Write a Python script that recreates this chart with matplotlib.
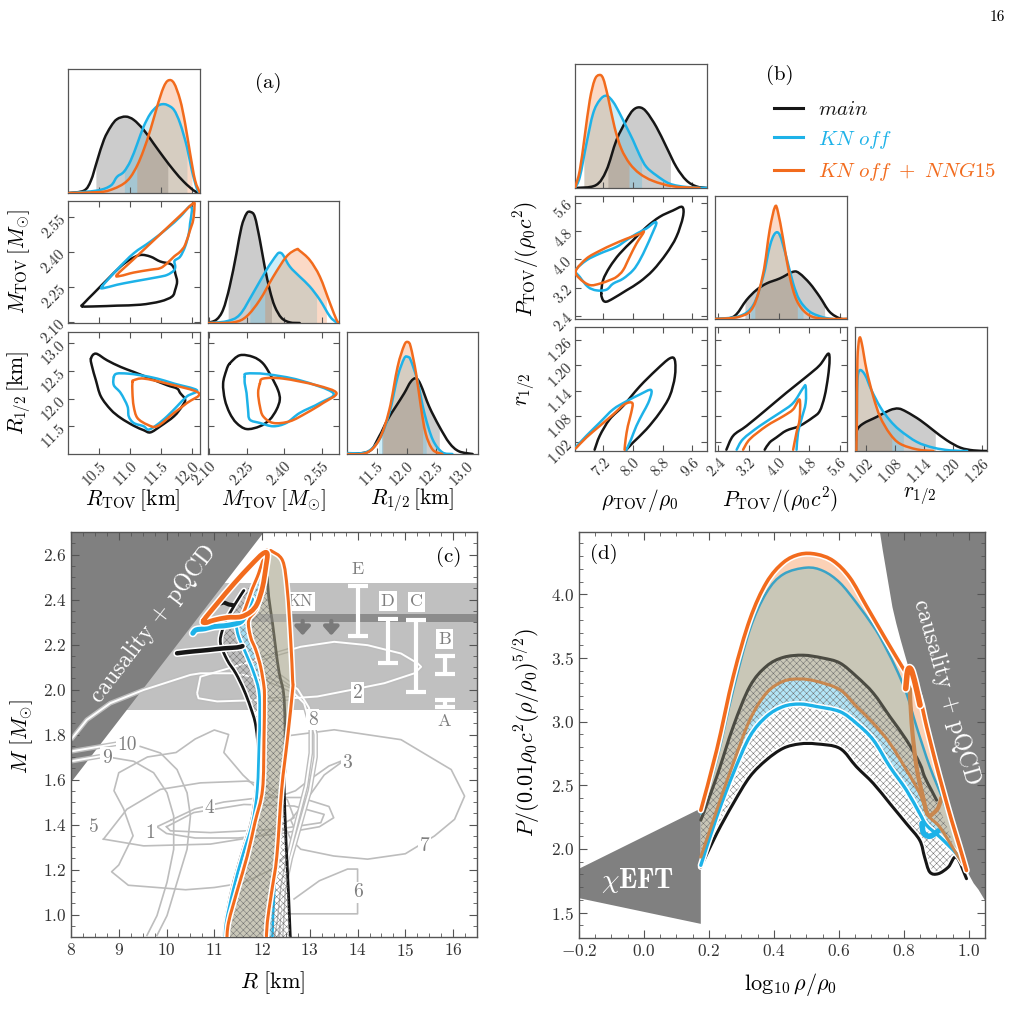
import numpy as np
import matplotlib
matplotlib.use("Agg")
import matplotlib.pyplot as plt
import matplotlib.patheffects as pe
from matplotlib.patches import Polygon, PathPatch
from matplotlib.path import Path
from matplotlib.lines import Line2D
from matplotlib.ticker import MultipleLocator

plt.rcParams.update({
    "font.family": "serif",
    "font.serif": ["cmr10"],
    "mathtext.fontset": "cm",
    "axes.unicode_minus": False,
    "axes.formatter.use_mathtext": True,
    "hatch.linewidth": 0.35,
})

# ---------------------------------------------------------------- colours
C_MAIN = "#161616"
C_KN = "#1db2e8"
C_NNG = "#f26b1d"
LABELS = [r"$\mathit{main}$", r"$\mathit{KN\ off}$", r"$\mathit{KN\ off\ +\ NNG15}$"]

# ================================================================ panel (a) data
RT_x_main = [10.02, 10.26, 10.37, 10.47, 10.58, 10.69, 10.79, 10.93, 11.06, 11.22, 11.38, 11.54, 11.71, 11.87, 12.03, 12.13]
RT_h_main = [0, 0.02, 0.10, 0.26, 0.43, 0.535, 0.595, 0.616, 0.59, 0.51, 0.40, 0.29, 0.18, 0.09, 0.02, 0]
RT_x_kn = [10.02, 10.47, 10.69, 10.79, 10.90, 11.01, 11.12, 11.22, 11.33, 11.44, 11.52, 11.60, 11.71, 11.81, 11.92, 12.0, 12.08, 12.13]
RT_h_kn = [0, 0.02, 0.06, 0.13, 0.17, 0.26, 0.40, 0.535, 0.64, 0.70, 0.716, 0.71, 0.67, 0.56, 0.37, 0.18, 0.035, 0]
RT_x_nng = [10.02, 10.53, 10.74, 10.90, 11.01, 11.12, 11.22, 11.33, 11.44, 11.54, 11.62, 11.71, 11.81, 11.89, 11.97, 12.05, 12.13]
RT_h_nng = [0, 0.008, 0.035, 0.076, 0.13, 0.225, 0.346, 0.51, 0.70, 0.85, 0.908, 0.886, 0.75, 0.56, 0.32, 0.103, 0]
RT_ci = [(10.45, 11.61), (10.91, 11.92), (11.11, 12.0)]

MT_x_main = [2.095, 2.130, 2.157, 2.183, 2.210, 2.230, 2.250, 2.266, 2.283, 2.303, 2.322, 2.342, 2.362, 2.389, 2.422, 2.461]
MT_h_main = [0, 0.027, 0.109, 0.299, 0.571, 0.788, 0.897, 0.910, 0.870, 0.679, 0.462, 0.272, 0.136, 0.041, 0.005, 0]
MT_x_kn = [2.095, 2.170, 2.223, 2.276, 2.329, 2.369, 2.382, 2.395, 2.422, 2.461, 2.501, 2.541, 2.581, 2.607, 2.617]
MT_h_kn = [0, 0.014, 0.068, 0.245, 0.435, 0.557, 0.576, 0.557, 0.462, 0.38, 0.299, 0.19, 0.054, 0.005, 0]
MT_x_nng = [2.095, 2.197, 2.250, 2.303, 2.356, 2.408, 2.448, 2.461, 2.501, 2.541, 2.581, 2.607, 2.617]
MT_h_nng = [0, 0.005, 0.054, 0.19, 0.38, 0.543, 0.603, 0.592, 0.516, 0.38, 0.163, 0.027, 0]
MT_ci = [(2.177, 2.349), (2.263, 2.528), (2.322, 2.567)]

R12_x_main = [10.99, 11.37, 11.54, 11.68, 11.82, 11.96, 12.07, 12.16, 12.24, 12.38, 12.55, 12.72, 12.88, 13.11]
R12_h_main = [0, 0.022, 0.144, 0.28, 0.389, 0.497, 0.592, 0.62, 0.565, 0.389, 0.226, 0.09, 0.022, 0]
R12_x_kn = [10.99, 11.32, 11.54, 11.71, 11.85, 11.96, 12.02, 12.07, 12.18, 12.30, 12.44, 12.60, 12.77]
R12_h_kn = [0.008, 0.014, 0.117, 0.334, 0.633, 0.783, 0.796, 0.769, 0.606, 0.334, 0.117, 0.014, 0]
R12_x_nng = [10.99, 11.32, 11.54, 11.71, 11.85, 11.96, 12.02, 12.07, 12.16, 12.24, 12.32, 12.44, 12.60]
R12_h_nng = [0, 0.008, 0.117, 0.36, 0.715, 0.89, 0.918, 0.878, 0.66, 0.39, 0.17, 0.035, 0]
R12_ci = [(11.58, 12.55), (11.53, 12.33), (11.60, 12.27)]

RM_main_R = [10.23, 10.26, 10.42, 10.63, 10.85, 11.01, 11.17, 11.33, 11.49, 11.65, 11.71, 11.73, 11.76, 11.73, 11.68, 11.49, 11.17, 10.79, 10.47, 10.23]
RM_main_M = [2.168, 2.182, 2.225, 2.281, 2.338, 2.369, 2.387, 2.380, 2.359, 2.349, 2.331, 2.309, 2.274, 2.239, 2.210, 2.189, 2.175, 2.171, 2.168, 2.168]
RM_kn_R = [10.55, 10.79, 11.06, 11.33, 11.60, 11.81, 11.95, 11.98, 12.0, 11.97, 11.95, 11.89, 11.81, 11.72, 11.73, 11.71, 11.60, 11.44, 11.06, 10.79, 10.58, 10.55]
RM_kn_M = [2.253, 2.324, 2.394, 2.444, 2.500, 2.55, 2.592, 2.592, 2.578, 2.522, 2.479, 2.423, 2.380, 2.362, 2.338, 2.321, 2.302, 2.292, 2.274, 2.260, 2.246, 2.253]
RM_nng_R = [10.79, 11.06, 11.33, 11.60, 11.81, 12.02, 12.04, 12.02, 11.97, 11.89, 11.81, 11.71, 11.60, 11.49, 11.33, 11.06, 10.85, 10.79]
RM_nng_M = [2.302, 2.369, 2.436, 2.503, 2.555, 2.607, 2.592, 2.536, 2.493, 2.430, 2.401, 2.380, 2.352, 2.331, 2.324, 2.312, 2.298, 2.302]

RR_main_R = [10.37, 10.45, 10.63, 10.85, 11.06, 11.33, 11.60, 11.76, 11.81, 11.89, 11.84, 11.71, 11.49, 11.33, 11.22, 11.06, 10.85, 10.69, 10.53, 10.45, 10.39, 10.37]
RR_main_Rh = [12.72, 12.81, 12.69, 12.57, 12.48, 12.36, 12.24, 12.18, 12.10, 11.98, 11.86, 11.68, 11.50, 11.39, 11.43, 11.51, 11.65, 11.80, 12.04, 12.33, 12.57, 12.72]
RR_kn_R = [10.74, 10.79, 10.96, 11.17, 11.44, 11.71, 12.08, 11.92, 11.76, 11.60, 11.44, 11.30, 11.22, 11.06, 10.98, 10.96, 10.85, 10.74, 10.74]
RR_kn_Rh = [12.39, 12.45, 12.45, 12.42, 12.36, 12.27, 12.15, 12.04, 11.86, 11.68, 11.53, 11.44, 11.50, 11.56, 11.68, 11.86, 12.10, 12.24, 12.39]
RR_nng_R = [11.04, 11.06, 11.22, 11.60, 12.11, 11.92, 11.71, 11.44, 11.28, 11.12, 11.06, 11.04, 11.04]
RR_nng_Rh = [12.30, 12.33, 12.36, 12.27, 12.10, 11.92, 11.74, 11.50, 11.53, 11.65, 11.86, 12.10, 12.30]

MR_main_M = [2.183, 2.223, 2.276, 2.316, 2.349, 2.375, 2.382, 2.369, 2.342, 2.303, 2.250, 2.210, 2.183, 2.164, 2.157, 2.170, 2.183]
MR_main_Rh = [12.63, 12.78, 12.75, 12.63, 12.39, 12.15, 11.98, 11.80, 11.62, 11.50, 11.45, 11.56, 11.74, 11.98, 12.27, 12.51, 12.63]
MR_kn_M = [2.243, 2.250, 2.329, 2.461, 2.594, 2.541, 2.461, 2.408, 2.356, 2.303, 2.263, 2.256, 2.250, 2.243, 2.243]
MR_kn_Rh = [12.39, 12.45, 12.44, 12.33, 12.10, 11.92, 11.74, 11.56, 11.50, 11.56, 11.62, 11.80, 12.10, 12.27, 12.39]
MR_nng_M = [2.303, 2.316, 2.395, 2.528, 2.607, 2.554, 2.488, 2.422, 2.356, 2.316, 2.303, 2.296, 2.303]
MR_nng_Rh = [12.27, 12.36, 12.36, 12.24, 12.10, 11.92, 11.74, 11.59, 11.56, 11.68, 11.86, 12.10, 12.27]

A_ticks_RT = [10.5, 11.0, 11.5, 12.0]
A_ticks_MT = [2.10, 2.25, 2.40, 2.55]
A_ticks_R12 = [11.5, 12.0, 12.5, 13.0]

# ================================================================ panel (b) data
RHO_x_main = [6.43, 6.99, 7.28, 7.55, 7.82, 8.0, 8.18, 8.36, 8.63, 8.90, 9.17, 9.44, 9.71, 10.0]
RHO_h_main = [0, 0.022, 0.143, 0.385, 0.547, 0.628, 0.65, 0.615, 0.493, 0.332, 0.17, 0.062, 0.013, 0]
RHO_x_kn = [6.43, 6.56, 6.74, 6.92, 7.10, 7.28, 7.46, 7.64, 7.82, 8.0, 8.18, 8.36, 8.63, 8.99, 9.44, 10.0]
RHO_h_kn = [0, 0.089, 0.358, 0.601, 0.709, 0.744, 0.695, 0.601, 0.493, 0.385, 0.264, 0.17, 0.102, 0.035, 0.008, 0]
RHO_x_nng = [6.43, 6.56, 6.69, 6.83, 6.96, 7.08, 7.19, 7.32, 7.50, 7.68, 7.91, 8.18, 8.54, 9.08, 9.80]
RHO_h_nng = [0, 0.143, 0.412, 0.709, 0.87, 0.911, 0.884, 0.737, 0.49, 0.318, 0.197, 0.116, 0.057, 0.013, 0]
RHO_ci = [(7.32, 9.01), (6.67, 8.23), (6.67, 7.89)]

P_x_main = [2.32, 2.80, 3.14, 3.40, 3.67, 4.02, 4.37, 4.54, 4.81, 5.07, 5.33, 5.60, 5.79]
P_h_main = [0, 0.019, 0.154, 0.235, 0.289, 0.33, 0.384, 0.37, 0.289, 0.181, 0.059, 0.005, 0]
P_x_kn = [2.32, 2.96, 3.32, 3.58, 3.75, 3.89, 4.02, 4.19, 4.37, 4.54, 4.81, 5.16, 5.42]
P_h_kn = [0, 0.024, 0.114, 0.343, 0.586, 0.695, 0.681, 0.505, 0.289, 0.154, 0.059, 0.014, 0]
P_x_nng = [2.32, 2.96, 3.32, 3.58, 3.75, 3.89, 3.97, 4.11, 4.28, 4.46, 4.72, 5.07, 5.79]
P_h_nng = [0, 0.019, 0.1, 0.37, 0.722, 0.911, 0.87, 0.643, 0.346, 0.154, 0.046, 0.005, 0]
P_ci = [(3.10, 5.20), (3.25, 4.63), (3.36, 4.48)]

r_x_main = [1.0, 1.001, 1.014, 1.042, 1.069, 1.087, 1.104, 1.132, 1.159, 1.187, 1.215, 1.242, 1.271]
r_h_main = [0.086, 0.167, 0.221, 0.275, 0.329, 0.342, 0.315, 0.248, 0.167, 0.086, 0.027, 0.005, 0]
r_x_kn = [1.0, 1.001, 1.002, 1.007, 1.018, 1.031, 1.049, 1.069, 1.09, 1.125, 1.159, 1.194, 1.229]
r_h_kn = [0, 0.329, 0.571, 0.652, 0.612, 0.491, 0.356, 0.248, 0.167, 0.073, 0.027, 0.005, 0]
r_x_nng = [1.0, 1.001, 1.002, 1.006, 1.011, 1.021, 1.035, 1.049, 1.069, 1.09, 1.125, 1.159]
r_h_nng = [0, 0.329, 0.733, 0.908, 0.868, 0.652, 0.437, 0.275, 0.14, 0.059, 0.013, 0]
r_ci = [(1.0, 1.163), (1.0, 1.097), (1.0, 1.073)]

PR_main_rho = [7.14, 7.19, 7.28, 7.46, 7.82, 8.18, 8.54, 8.90, 9.17, 9.35, 9.33, 9.08, 8.72, 8.36, 8.0, 7.64, 7.37, 7.19, 7.14]
PR_main_P = [3.03, 2.84, 2.80, 2.89, 3.12, 3.36, 3.69, 4.16, 4.63, 5.20, 5.48, 5.38, 5.20, 4.91, 4.54, 4.16, 3.78, 3.41, 3.03]
PR_kn_rho = [6.45, 6.56, 6.78, 7.01, 7.28, 7.46, 7.73, 8.0, 8.18, 8.36, 8.50, 8.63, 8.56, 8.36, 8.09, 7.82, 7.55, 7.10, 6.74, 6.45]
PR_kn_P = [3.69, 3.50, 3.22, 3.12, 3.14, 3.31, 3.45, 3.69, 3.97, 4.35, 4.68, 5.01, 5.03, 4.87, 4.72, 4.54, 4.35, 4.16, 3.97, 3.69]
PR_nng_rho = [6.45, 6.56, 6.83, 7.10, 7.37, 7.55, 7.73, 7.91, 8.09, 8.29, 8.18, 7.82, 7.46, 7.10, 6.74, 6.45]
PR_nng_P = [3.67, 3.45, 3.27, 3.31, 3.41, 3.50, 3.69, 4.07, 4.44, 4.77, 4.72, 4.58, 4.42, 4.24, 4.02, 3.67]

RRH_main_rho = [6.96, 7.10, 7.37, 7.73, 8.18, 8.63, 8.99, 9.13, 9.13, 8.99, 8.72, 8.36, 8.0, 7.82]
RRH_main_r = [1.001, 1.034, 1.073, 1.104, 1.150, 1.189, 1.216, 1.212, 1.173, 1.127, 1.088, 1.049, 1.018, 1.001]
RRH_kn_rho = [6.45, 6.74, 7.10, 7.46, 7.82, 8.18, 8.45, 8.50, 8.41, 8.27, 8.09, 7.95, 7.82]
RRH_kn_r = [1.007, 1.034, 1.065, 1.096, 1.115, 1.131, 1.142, 1.135, 1.111, 1.088, 1.057, 1.026, 1.001]
RRH_nng_rho = [6.45, 6.74, 7.10, 7.46, 7.77, 7.98, 7.95, 7.86, 7.80, 7.77]
RRH_nng_r = [1.004, 1.03, 1.057, 1.084, 1.108, 1.111, 1.088, 1.057, 1.026, 1.001]

RP_main_P = [2.61, 2.79, 3.14, 3.67, 4.19, 4.72, 5.07, 5.29, 5.33, 5.29, 5.20, 5.07, 4.89, 4.54, 4.19, 3.93, 3.75, 3.62]
RP_main_r = [1.001, 1.034, 1.057, 1.096, 1.135, 1.173, 1.200, 1.227, 1.212, 1.173, 1.127, 1.092, 1.077, 1.057, 1.046, 1.030, 1.018, 1.001]
RP_kn_P = [2.88, 3.05, 3.49, 4.02, 4.37, 4.63, 4.70, 4.70, 4.59, 4.50, 4.46]
RP_kn_r = [1.001, 1.026, 1.057, 1.088, 1.111, 1.146, 1.150, 1.111, 1.073, 1.042, 1.001]
RP_nng_P = [3.05, 3.23, 3.67, 4.11, 4.37, 4.54, 4.54, 4.46, 4.37]
RP_nng_r = [1.001, 1.026, 1.057, 1.080, 1.096, 1.119, 1.073, 1.042, 1.001]

B_ticks_rho = [7.2, 8.0, 8.8, 9.6]
B_ticks_P = [2.4, 3.2, 4.0, 4.8, 5.6]
B_ticks_r = [1.02, 1.08, 1.14, 1.20, 1.26]

# ================================================================ panel (c) data
GW_BAND = (1.907, 2.475)
KN_BAND = (11.69, 2.30, 2.337)
KN_ARROWS_R = [12.85, 13.45]
CAUS_C_R = [8.0, 12.04, 8.0]
CAUS_C_M = [1.587, 2.7, 2.7]
OBS_NAMES = ["A", "B", "C", "D", "E"]
OBS_R = [15.82, 15.82, 15.23, 14.63, 14.0]
OBS_LO = [1.924, 2.069, 1.988, 2.116, 2.237]
OBS_HI = [1.954, 2.149, 2.311, 2.315, 2.458]
OBS_LABEL_M = [1.858, 2.224, 2.39, 2.392, 2.532]
OBS_BOXED = [False, True, True, True, False]

OL_R = [12.10, 12.04, 11.90, 11.72, 11.76, 11.87, 11.97, 12.04, 12.05, 12.04, 12.01, 11.85, 11.69, 11.49, 11.30, 11.26]
OL_M = [2.62, 2.515, 2.367, 2.308, 2.234, 2.175, 2.101, 2.013, 1.95, 1.777, 1.556, 1.408, 1.26, 1.113, 0.966, 0.88]
OR_R = [12.18, 12.43, 12.53, 12.60, 12.64, 12.64, 12.53, 12.41, 12.31, 12.20, 12.11, 12.09]
OR_M = [2.618, 2.573, 2.44, 2.219, 2.042, 2.0, 1.777, 1.556, 1.26, 1.10, 0.966, 0.88]
BL_R = [11.45, 11.51, 11.66, 11.83, 11.94, 11.95, 11.94, 11.90, 11.80, 11.59, 11.40, 11.25, 11.22]
BL_M = [2.293, 2.234, 2.161, 2.072, 1.984, 1.85, 1.777, 1.556, 1.408, 1.26, 1.113, 0.966, 0.88]
BR_R = [12.20, 12.42, 12.51, 12.58, 12.62, 12.51, 12.40, 12.34, 12.26, 12.22, 12.21]
BR_M = [2.62, 2.57, 2.44, 2.22, 2.04, 1.78, 1.56, 1.335, 1.113, 0.907, 0.88]
KL_R = [11.62, 11.55, 11.30, 11.17, 11.13, 11.27, 11.45, 11.62, 11.76, 11.87, 11.93, 11.88, 11.77, 11.56, 11.37, 11.23, 11.20]
KL_M = [2.44, 2.418, 2.330, 2.264, 2.205, 2.131, 2.072, 1.998, 1.92, 1.836, 1.688, 1.556, 1.408, 1.26, 1.113, 0.966, 0.88]
KR_R = [12.11, 12.14, 12.22, 12.29, 12.36, 12.45, 12.48, 12.48, 12.46, 12.50, 12.55, 12.59, 12.60]
KR_M = [2.50, 2.411, 2.293, 2.175, 2.072, 1.984, 1.85, 1.65, 1.585, 1.335, 1.113, 0.907, 0.88]

LOOP_NNG_R = [10.78, 11.06, 11.41, 11.76, 12.01, 12.11, 12.08, 12.01, 11.90, 11.76, 11.55, 11.27, 10.99, 10.82, 10.78]
LOOP_NNG_M = [2.308, 2.382, 2.470, 2.551, 2.603, 2.603, 2.544, 2.455, 2.382, 2.345, 2.323, 2.320, 2.308, 2.297, 2.308]
LOOP_NNG_IN_R = [12.04, 11.95, 11.90, 11.80, 11.76, 11.66, 11.59]
LOOP_NNG_IN_M = [2.588, 2.53, 2.500, 2.45, 2.426, 2.367, 2.330]
LOOP_KN_R = [10.55, 10.62, 10.80, 11.00, 11.20, 11.40, 11.55, 11.64, 11.72, 11.78]
LOOP_KN_M = [2.25, 2.265, 2.27, 2.28, 2.283, 2.29, 2.30, 2.325, 2.37, 2.40]
LOOP_MAIN_R = [10.22, 10.50, 10.85, 11.20, 11.48, 11.59]
LOOP_MAIN_M = [2.161, 2.168, 2.175, 2.183, 2.187, 2.193]
LOOP_MAIN2_R = [11.09, 11.20, 11.30, 11.38]
LOOP_MAIN2_M = [2.38, 2.387, 2.378, 2.375]

# grey literature contours (single lines)
G1_R = [10.0, 10.57, 11.62, 12.67, 13.30, 13.23, 12.32, 10.92, 10.08, 10.0]
G1_M = [1.39, 1.453, 1.489, 1.482, 1.445, 1.408, 1.379, 1.364, 1.372, 1.39]
G3_R = [13.75, 13.4, 13.0, 12.7, 12.3, 11.9, 11.6, 11.2, 11.3, 11.0, 10.6, 10.2, 9.6, 9.0, 8.9, 9.1, 9.3, 9.0, 8.85, 9.2, 9.8, 10.4, 11.0, 11.6, 12.2, 12.6, 12.75, 12.6, 12.9, 13.3, 13.75]
G3_M = [1.69, 1.66, 1.60, 1.55, 1.52, 1.56, 1.62, 1.72, 1.80, 1.82, 1.78, 1.72, 1.70, 1.63, 1.55, 1.47, 1.35, 1.22, 1.19, 1.13, 1.12, 1.11, 1.12, 1.14, 1.20, 1.28, 1.35, 1.42, 1.50, 1.62, 1.69]
G4_R = [10.1, 10.6, 11.2, 12.0, 12.8, 13.4, 13.5, 13.2, 12.4, 11.5, 10.6, 10.0, 9.8, 10.1]
G4_M = [1.42, 1.47, 1.50, 1.52, 1.52, 1.48, 1.43, 1.39, 1.36, 1.34, 1.34, 1.36, 1.39, 1.42]
G5_R = [8.68, 9.17, 9.87, 10.71, 11.69, 12.11, 12.53, 12.67, 11.97, 10.92, 9.52, 8.68]
G5_M = [1.335, 1.468, 1.556, 1.585, 1.593, 1.571, 1.51, 1.43, 1.349, 1.313, 1.305, 1.335]
G6_R = [12.53, 14.0, 14.0, 13.79, 13.2, 12.67]
G6_M = [1.003, 1.003, 1.202, 1.202, 1.15, 1.069]
G7_R = [12.46, 13.51, 14.91, 15.96, 16.24, 16.03, 15.61, 15.0, 14.21, 13.5, 12.81, 12.60, 12.46]
G7_M = [1.792, 1.821, 1.777, 1.644, 1.526, 1.423, 1.349, 1.27, 1.246, 1.26, 1.290, 1.335, 1.40]
G9_R = [8.89, 9.31, 9.73, 10.01, 10.15, 10.15, 10.01, 9.80, 9.59]
G9_M = [1.696, 1.681, 1.630, 1.541, 1.438, 1.290, 1.143, 0.995, 0.907]
G10_R = [9.45, 9.87, 10.22, 10.43, 10.50, 10.43, 10.22, 10.01, 9.80]
G10_M = [1.747, 1.718, 1.644, 1.541, 1.438, 1.290, 1.143, 0.995, 0.907]
# grey literature contours (double lines)
D2_R = [10.64, 10.71, 11.41, 12.11, 12.81, 13.51, 14.21, 14.91, 15.26, 15.33, 15.19, 14.56, 13.86, 13.16, 12.11, 11.06, 10.67, 10.64]
D2_M = [1.983, 2.057, 2.101, 2.146, 2.19, 2.212, 2.197, 2.160, 2.116, 2.101, 2.072, 2.028, 1.998, 1.969, 1.954, 1.947, 1.961, 1.983]
D8_R = [8.0, 8.33, 8.82, 9.52, 10.50, 10.71, 11.41, 12.11, 12.60, 12.88, 13.02, 13.02, 12.92, 12.74, 12.57, 12.43, 12.36, 12.3]
D8_M = [1.777, 1.865, 1.939, 1.998, 2.065, 2.072, 2.072, 2.045, 1.998, 1.939, 1.836, 1.718, 1.571, 1.423, 1.276, 1.128, 0.981, 0.9]
D8b_R = [12.3, 12.75, 12.98, 13.12, 13.12, 13.0, 12.8, 12.6, 12.45, 12.4]
D8b_M = [2.07, 2.0, 1.92, 1.80, 1.70, 1.55, 1.40, 1.25, 1.10, 0.9]
D9_R = [8.0, 8.61]
D9_M = [1.681, 1.703]
D10_R = [8.0, 8.96]
D10_M = [1.725, 1.759]
GLABELS = ["1", "2", "3", "4", "5", "6", "7", "8", "9", "10"]
GLABEL_R = [9.66, 14.0, 13.79, 10.89, 8.47, 14.0, 15.40, 13.06, 8.75, 9.17]
GLABEL_M = [1.364, 1.986, 1.674, 1.475, 1.388, 1.098, 1.305, 1.865, 1.696, 1.755]

# ================================================================ panel (d) data
CHIEFT_X = [-0.2, 0.175, 0.175, -0.2]
CHIEFT_Y = [1.844, 2.318, 1.411, 1.613]
CAUS_D_X = [0.726, 0.735, 0.745, 0.755, 0.765, 0.777, 0.79, 0.805, 0.82, 0.85, 0.88, 0.91, 0.94, 0.97, 1.0, 1.015, 1.03, 1.05, 1.05]
CAUS_D_Y = [4.5, 4.35, 4.2, 4.05, 3.9, 3.77, 3.645, 3.51, 3.38, 3.115, 2.856, 2.59, 2.33, 2.06, 1.80, 1.73, 1.68, 1.595, 4.5]

NNG_UP_X = [0.175, 0.224, 0.275, 0.326, 0.377, 0.429, 0.480, 0.531, 0.583, 0.634, 0.685, 0.745, 0.794, 0.844, 0.870, 0.896, 0.921, 0.947, 0.972, 0.993]
NNG_UP_Y = [2.304, 2.778, 3.356, 3.803, 4.092, 4.250, 4.315, 4.315, 4.263, 4.131, 3.908, 3.645, 3.435, 3.224, 2.962, 2.699, 2.462, 2.226, 2.016, 1.831]
NNG_LO_X = [0.175, 0.224, 0.275, 0.326, 0.377, 0.429, 0.480, 0.531, 0.603, 0.654, 0.706, 0.757, 0.808, 0.849, 0.875, 0.911, 0.962, 0.988]
NNG_LO_Y = [1.936, 2.304, 2.672, 3.014, 3.224, 3.317, 3.335, 3.317, 3.251, 3.119, 2.987, 2.83, 2.62, 2.436, 2.265, 2.17, 1.963, 1.857]
NNG_SPIKE_X = [0.806, 0.812, 0.822, 0.835, 0.85]
NNG_SPIKE_Y = [3.26, 3.40, 3.41, 3.30, 3.13]
NNG_LOOP_X = [0.818, 0.824, 0.839, 0.859, 0.875, 0.901, 0.911, 0.915]
NNG_LOOP_Y = [3.30, 2.988, 2.646, 2.41, 2.265, 2.305, 2.357, 2.40]
KN_UP_X = [0.175, 0.224, 0.275, 0.326, 0.377, 0.429, 0.500, 0.552, 0.603, 0.654, 0.706, 0.731, 0.773, 0.808, 0.839, 0.880, 0.921, 0.952, 0.972]
KN_UP_Y = [2.278, 2.699, 3.251, 3.724, 4.013, 4.158, 4.21, 4.184, 4.092, 3.934, 3.75, 3.645, 3.435, 3.224, 2.962, 2.646, 2.383, 2.147, 1.963]
KN_LO_X = [0.175, 0.224, 0.275, 0.326, 0.377, 0.429, 0.480, 0.531, 0.603, 0.654, 0.706, 0.757, 0.808, 0.849, 0.870, 0.911, 0.962, 0.983]
KN_LO_Y = [1.871, 2.252, 2.594, 2.883, 3.04, 3.119, 3.138, 3.119, 3.079, 2.987, 2.856, 2.646, 2.462, 2.278, 2.186, 2.094, 1.963, 1.884]
KN_BLOB_X = [0.856, 0.86, 0.875, 0.89, 0.905]
KN_BLOB_Y = [2.20, 2.13, 2.10, 2.11, 2.14]
MAIN_UP_X = [0.175, 0.224, 0.275, 0.326, 0.377, 0.429, 0.490, 0.550, 0.603, 0.654, 0.706, 0.757, 0.808, 0.849, 0.864, 0.885, 0.901]
MAIN_UP_Y = [2.226, 2.567, 2.962, 3.277, 3.435, 3.505, 3.522, 3.50, 3.461, 3.356, 3.224, 3.04, 2.856, 2.672, 2.567, 2.462, 2.383]
MAIN_LO_X = [0.175, 0.224, 0.275, 0.326, 0.377, 0.429, 0.480, 0.531, 0.603, 0.654, 0.706, 0.757, 0.808, 0.849, 0.864, 0.880, 0.906, 0.937, 0.962, 0.993]
MAIN_LO_Y = [1.858, 2.12, 2.357, 2.567, 2.699, 2.791, 2.825, 2.825, 2.79, 2.646, 2.515, 2.357, 2.199, 2.068, 1.936, 1.818, 1.805, 1.857, 1.936, 1.766]


# ================================================================ smooth-path helpers (Bezier curves through the read points)
def _cr(pts, closed=False):
    pts = np.asarray(pts, float)
    if closed:
        ext = np.vstack([pts[-1:], pts, pts[:2]])
        nseg = len(pts)
    else:
        ext = np.vstack([pts[:1], pts, pts[-1:]])
        nseg = len(pts) - 1
    out = []
    for i in range(1, nseg + 1):
        p0, p1, p2, p3 = ext[i - 1], ext[i], ext[i + 1], ext[i + 2]
        out += [p1 + (p2 - p0) / 6.0, p2 - (p3 - p1) / 6.0, p2]
    return out


def spath(x, y):
    pts = np.column_stack([x, y]).astype(float)
    closed = len(pts) > 3 and np.allclose(pts[0], pts[-1])
    if closed:
        pts = pts[:-1]
    seg = _cr(pts, closed)
    return Path([pts[0]] + seg, [Path.MOVETO] + [Path.CURVE4] * len(seg))


def bandpath(x1, y1, x2, y2):
    p1 = np.column_stack([x1, y1]).astype(float)
    p2 = np.column_stack([x2, y2]).astype(float)[::-1]
    s1, s2 = _cr(p1), _cr(p2)
    verts = [p1[0]] + s1 + [p2[0]] + s2 + [p1[0]]
    codes = [Path.MOVETO] + [Path.CURVE4] * len(s1) + [Path.LINETO] + [Path.CURVE4] * len(s2) + [Path.CLOSEPOLY]
    return Path(verts, codes)


def sline(ax, x, y, color, lw, zorder=3, glow=None, **kw):
    pp = PathPatch(spath(x, y), fill=False, ec=color, lw=lw, zorder=zorder, capstyle="round", joinstyle="round", **kw)
    if glow:
        pp.set_path_effects([pe.Stroke(linewidth=lw + glow, foreground="white"), pe.Normal()])
    ax.add_patch(pp)
    return pp


# ================================================================ figure
W, H = 1011, 1030
fig = plt.figure(figsize=(W / 100, H / 100), dpi=100)


def px_axes(x0, x1, y0, y1):
    return fig.add_axes([x0 / W, 1 - y1 / H, (x1 - x0) / W, (y1 - y0) / H])


def style(ax, lw=0.9):
    for s in ax.spines.values():
        s.set_color("#555555")
        s.set_linewidth(lw)


COLS = [C_MAIN, C_KN, C_NNG]
FILLS = [("#7a7a7a", 0.38), (C_KN, 0.22), (C_NNG, 0.25)]
TFS = 11


def diag(ax, curves, cis, xlim, ticks=None, labels=None):
    style(ax)
    for (x, h), (lo, hi), (fc, fa) in zip(curves, cis, FILLS):
        x = np.asarray(x, float)
        h = np.asarray(h, float)
        m = (x > lo) & (x < hi)
        xf = np.concatenate([[lo], x[m], [hi]])
        hf = np.interp(xf, x, h)
        ax.fill_between(xf, 0, hf, color=fc, alpha=fa, lw=0)
    for (x, h), col in zip(curves, COLS):
        sline(ax, x, h, col, 1.8)
    ax.set_xlim(*xlim)
    ax.set_ylim(0, 1.0)
    ax.set_yticks([])
    ax.tick_params(axis="x", direction="in", length=4, colors="#555555", labelcolor="#333333")
    if ticks is not None:
        ax.set_xticks(ticks)
        if labels is not None:
            ax.set_xticklabels(labels, rotation=45, ha="right", rotation_mode="anchor", fontsize=TFS)
        else:
            ax.set_xticklabels([])
    else:
        ax.set_xticks([])


def twod(ax, curves, xlim, ylim, xt, yt, xl=None, yl=None):
    style(ax)
    for (x, y), col in zip(curves, COLS):
        sline(ax, x, y, col, 1.8)
    ax.set_xlim(*xlim)
    ax.set_ylim(*ylim)
    ax.set_xticks(xt)
    ax.set_yticks(yt)
    ax.tick_params(direction="in", length=4, top=True, right=True, colors="#555555", labelcolor="#333333")
    if xl is not None:
        ax.set_xticklabels(xl, rotation=45, ha="right", rotation_mode="anchor", fontsize=TFS)
    else:
        ax.set_xticklabels([])
    if yl is not None:
        ax.set_yticklabels(yl, rotation=45, ha="right", va="center", rotation_mode="anchor", fontsize=TFS)
    else:
        ax.set_yticklabels([])


# ---------------- panel (a)
A_cols = [(68, 200), (208, 339), (347, 478)]
A_rows = [(69, 193), (201, 323), (332, 454)]
lim_RT = (10.0, 12.13)
lim_MT = (2.097, 2.617)
lim_R12 = (11.0, 13.2)
lab_RT = ["10.5", "11.0", "11.5", "12.0"]
lab_MT = ["2.10", "2.25", "2.40", "2.55"]
lab_R12 = ["11.5", "12.0", "12.5", "13.0"]

ax = px_axes(*A_cols[0], *A_rows[0])
diag(ax, [(RT_x_main, RT_h_main), (RT_x_kn, RT_h_kn), (RT_x_nng, RT_h_nng)], RT_ci, lim_RT, A_ticks_RT)
ax = px_axes(*A_cols[0], *A_rows[1])
twod(ax, [(RM_main_R, RM_main_M), (RM_kn_R, RM_kn_M), (RM_nng_R, RM_nng_M)], lim_RT, lim_MT, A_ticks_RT, A_ticks_MT, None, lab_MT)
ax = px_axes(*A_cols[1], *A_rows[1])
diag(ax, [(MT_x_main, MT_h_main), (MT_x_kn, MT_h_kn), (MT_x_nng, MT_h_nng)], MT_ci, lim_MT, A_ticks_MT)
ax = px_axes(*A_cols[0], *A_rows[2])
twod(ax, [(RR_main_R, RR_main_Rh), (RR_kn_R, RR_kn_Rh), (RR_nng_R, RR_nng_Rh)], lim_RT, lim_R12, A_ticks_RT, A_ticks_R12, lab_RT, lab_R12)
ax = px_axes(*A_cols[1], *A_rows[2])
twod(ax, [(MR_main_M, MR_main_Rh), (MR_kn_M, MR_kn_Rh), (MR_nng_M, MR_nng_Rh)], lim_MT, lim_R12, A_ticks_MT, A_ticks_R12, lab_MT, None)
ax = px_axes(*A_cols[2], *A_rows[2])
diag(ax, [(R12_x_main, R12_h_main), (R12_x_kn, R12_h_kn), (R12_x_nng, R12_h_nng)], R12_ci, lim_R12, A_ticks_R12, lab_R12)

fs_lab = 15.5
fig.text(133 / W, 1 - 500 / H, r"$R_{\rm TOV}\,[{\rm km}]$", ha="center", va="center", fontsize=fs_lab)
fig.text(273 / W, 1 - 500 / H, r"$M_{\rm TOV}\,[M_{\odot}]$", ha="center", va="center", fontsize=fs_lab)
fig.text(412 / W, 1 - 500 / H, r"$R_{1/2}\,[{\rm km}]$", ha="center", va="center", fontsize=fs_lab)
fig.text(19 / W, 1 - 262 / H, r"$M_{\rm TOV}\,[M_{\odot}]$", ha="center", va="center", fontsize=fs_lab, rotation=90)
fig.text(19 / W, 1 - 393 / H, r"$R_{1/2}\,[{\rm km}]$", ha="center", va="center", fontsize=fs_lab, rotation=90)
fig.text(268 / W, 1 - 83 / H, "(a)", ha="center", va="center", fontsize=15)

# ---------------- panel (b)
B_cols = [(575, 707), (715, 847), (855, 987)]
B_rows = [(64, 188), (196, 319), (327, 451)]
lim_rho = (6.43, 10.0)
lim_P = (2.31, 5.79)
lim_r = (0.998, 1.29)
lab_rho = ["7.2", "8.0", "8.8", "9.6"]
lab_P = ["2.4", "3.2", "4.0", "4.8", "5.6"]
lab_r = ["1.02", "1.08", "1.14", "1.20", "1.26"]

ax = px_axes(*B_cols[0], *B_rows[0])
diag(ax, [(RHO_x_main, RHO_h_main), (RHO_x_kn, RHO_h_kn), (RHO_x_nng, RHO_h_nng)], RHO_ci, lim_rho, B_ticks_rho)
ax = px_axes(*B_cols[0], *B_rows[1])
twod(ax, [(PR_main_rho, PR_main_P), (PR_kn_rho, PR_kn_P), (PR_nng_rho, PR_nng_P)], lim_rho, lim_P, B_ticks_rho, B_ticks_P, None, lab_P)
ax = px_axes(*B_cols[1], *B_rows[1])
diag(ax, [(P_x_main, P_h_main), (P_x_kn, P_h_kn), (P_x_nng, P_h_nng)], P_ci, lim_P, B_ticks_P)
ax = px_axes(*B_cols[0], *B_rows[2])
twod(ax, [(RRH_main_rho, RRH_main_r), (RRH_kn_rho, RRH_kn_r), (RRH_nng_rho, RRH_nng_r)], lim_rho, lim_r, B_ticks_rho, B_ticks_r, lab_rho, lab_r)
ax = px_axes(*B_cols[1], *B_rows[2])
twod(ax, [(RP_main_P, RP_main_r), (RP_kn_P, RP_kn_r), (RP_nng_P, RP_nng_r)], lim_P, lim_r, B_ticks_P, B_ticks_r, lab_P, None)
ax = px_axes(*B_cols[2], *B_rows[2])
diag(ax, [(r_x_main, r_h_main), (r_x_kn, r_h_kn), (r_x_nng, r_h_nng)], r_ci, (0.997, 1.27), B_ticks_r, lab_r)

fig.text(640 / W, 1 - 500 / H, r"$\rho_{\rm TOV}/\rho_0$", ha="center", va="center", fontsize=fs_lab)
fig.text(780 / W, 1 - 500 / H, r"$P_{\rm TOV}/(\rho_0c^2)$", ha="center", va="center", fontsize=fs_lab)
fig.text(920 / W, 1 - 496 / H, r"$r_{1/2}$", ha="center", va="center", fontsize=fs_lab)
fig.text(526 / W, 1 - 259 / H, r"$P_{\rm TOV}/(\rho_0c^2)$", ha="center", va="center", fontsize=fs_lab, rotation=90)
fig.text(526 / W, 1 - 389 / H, r"$r_{1/2}$", ha="center", va="center", fontsize=fs_lab, rotation=90)
fig.text(780 / W, 1 - 75 / H, "(b)", ha="center", va="center", fontsize=15)

handles = [Line2D([], [], color=c, lw=2.2) for c in COLS]
fig.legend(handles, LABELS, loc="center left", bbox_to_anchor=(774 / W, 1 - 142 / H), frameon=False,
           fontsize=15, handlelength=1.4, handletextpad=0.7, labelspacing=0.45, borderpad=0,
           borderaxespad=0, labelcolor="linecolor")

# ---------------- panel (c)
axc = px_axes(71, 477, 532, 937)
style(axc, 1.0)
axc.set_xlim(8, 16.5)
axc.set_ylim(0.9, 2.7)
axc.xaxis.set_major_locator(MultipleLocator(1))
axc.xaxis.set_minor_locator(MultipleLocator(0.25))
axc.yaxis.set_major_locator(MultipleLocator(0.2))
axc.yaxis.set_minor_locator(MultipleLocator(0.05))
axc.tick_params(which="both", direction="in", top=True, right=True, colors="#555555", labelcolor="#333333", labelsize=12.5)
axc.tick_params(which="major", length=6)
axc.tick_params(which="minor", length=3)

axc.axhspan(GW_BAND[0], GW_BAND[1], color="#c0c0c0", lw=0, zorder=0.5)
axc.fill_between([KN_BAND[0], 16.5], KN_BAND[1], KN_BAND[2], color="#8c8c8c", lw=0, zorder=0.6)
for r in KN_ARROWS_R:
    axc.annotate("", xy=(r, 2.24), xytext=(r, 2.305),
                 arrowprops=dict(arrowstyle="-|>,head_width=0.45,head_length=0.5", color="#7a7a7a", lw=3, shrinkA=0, shrinkB=0),
                 zorder=0.7)
axc.fill(CAUS_C_R, CAUS_C_M, color="#808080", lw=0, zorder=1)
axc.text(9.72, 2.29, "causality + pQCD", color="white", fontsize=17, rotation=52.5,
         ha="center", va="center", rotation_mode="anchor", zorder=1.5)

# blue band, then white under the orange band so the tan reads cleanly
axc.add_patch(PathPatch(bandpath(BL_R, BL_M, BR_R, BR_M), fc="#a3def3", ec="none", zorder=1.7))
axc.add_patch(PathPatch(bandpath(OL_R, OL_M, OR_R, OR_M), fc="white", ec="none", zorder=1.8))

gcol = "#bdbdbd"
for x, y in [(G1_R, G1_M), (G3_R, G3_M), (G4_R, G4_M), (G5_R, G5_M), (G6_R, G6_M), (G7_R, G7_M), (G9_R, G9_M), (G10_R, G10_M)]:
    axc.plot(x, y, color=gcol, lw=1.2, zorder=2)
for x, y in [(D2_R, D2_M), (D8_R, D8_M), (D8b_R, D8b_M), (D9_R, D9_M), (D10_R, D10_M)]:
    axc.plot(x, y, color=gcol, lw=3.4, zorder=2, solid_capstyle="butt")
    axc.plot(x, y, color="white", lw=1.4, zorder=2.05, solid_capstyle="butt")
for t, r, m in zip(GLABELS, GLABEL_R, GLABEL_M):
    axc.text(r, m, t, color="#7f7f7f", fontsize=14, ha="center", va="center", zorder=2.1,
             bbox=dict(boxstyle="square,pad=0.08", fc="white", ec="none"))

obs_mid = [(lo + hi) / 2 for lo, hi in zip(OBS_LO, OBS_HI)]
obs_err = [[m - lo for m, lo in zip(obs_mid, OBS_LO)], [hi - m for m, hi in zip(obs_mid, OBS_HI)]]
axc.errorbar(OBS_R, obs_mid, yerr=obs_err, fmt="none", ecolor="white", elinewidth=3, capsize=7, capthick=3, zorder=2.5)
for t, r, m, b in zip(OBS_NAMES, OBS_R, OBS_LABEL_M, OBS_BOXED):
    kw = dict(bbox=dict(boxstyle="square,pad=0.12", fc="white", ec="none")) if b else {}
    axc.text(r, m, t, color="#7f7f7f", fontsize=13, ha="center", va="center", zorder=2.6, **kw)
axc.text(12.8, 2.39, "KN", color="#7f7f7f", fontsize=12, ha="center", va="center", zorder=2.6,
         bbox=dict(boxstyle="square,pad=0.12", fc="white", ec="none"))

sline(axc, BR_R, BR_M, C_KN, 1.6, zorder=2.85)
sline(axc, KR_R, KR_M, C_MAIN, 2.0, zorder=2.9)
p_tan = PathPatch(bandpath(OL_R, OL_M, OR_R, OR_M), fc="#a3a085", ec="none", alpha=0.58, zorder=3)
axc.add_patch(p_tan)
kn_stripe = axc.fill_between([KN_BAND[0], 16.5], KN_BAND[1], KN_BAND[2], color="#8c8c8c", alpha=0.45, lw=0, zorder=3.1)
kn_stripe.set_clip_path(p_tan)
axc.add_patch(PathPatch(bandpath(KL_R, KL_M, KR_R, KR_M), fill=False, hatch="xxxxx", ec="#707070", lw=0, zorder=3.2))

sline(axc, KL_R, KL_M, C_MAIN, 2.0, zorder=4, glow=2.2)
sline(axc, BL_R, BL_M, C_KN, 2.0, zorder=4.5, glow=2.2)
sline(axc, OL_R, OL_M, C_NNG, 2.2, zorder=5, glow=2.2)
sline(axc, OR_R, OR_M, C_NNG, 2.2, zorder=5, glow=2.2)
sline(axc, LOOP_MAIN_R, LOOP_MAIN_M, C_MAIN, 3.2, zorder=5.5, glow=2.2)
axc.plot(LOOP_MAIN2_R, LOOP_MAIN2_M, color=C_MAIN, lw=3.0, zorder=5.5)
sline(axc, LOOP_KN_R, LOOP_KN_M, C_KN, 3.6, zorder=5.6, glow=2.2)
sline(axc, LOOP_NNG_IN_R, LOOP_NNG_IN_M, C_NNG, 2.2, zorder=5.7, glow=2.2)
sline(axc, LOOP_NNG_R, LOOP_NNG_M, C_NNG, 3.4, zorder=5.8, glow=2.2)
axc.text(15.9, 2.59, "(c)", fontsize=15, ha="center", va="center", zorder=6)
fig.text(22 / W, 1 - 737 / H, r"$M\ [M_{\odot}]$", ha="center", va="center", fontsize=16, rotation=90)
fig.text(273 / W, 1 - 983 / H, r"$R\ [{\rm km}]$", ha="center", va="center", fontsize=16)

# ---------------- panel (d)
axd = px_axes(579, 985, 532, 938)
style(axd, 1.0)
axd.set_xlim(-0.2, 1.05)
axd.set_ylim(1.3, 4.49)
axd.xaxis.set_major_locator(MultipleLocator(0.2))
axd.xaxis.set_minor_locator(MultipleLocator(0.05))
axd.yaxis.set_major_locator(MultipleLocator(0.5))
axd.yaxis.set_minor_locator(MultipleLocator(0.1))
axd.tick_params(which="both", direction="in", top=True, right=True, colors="#555555", labelcolor="#333333", labelsize=12.5)
axd.tick_params(which="major", length=6)
axd.tick_params(which="minor", length=3)

axd.fill(CHIEFT_X, CHIEFT_Y, color="#808080", lw=0, zorder=1)
axd.fill(CAUS_D_X, CAUS_D_Y, color="#808080", lw=0, zorder=1)
axd.text(-0.02, 1.75, r"$\chi$EFT", color="white", fontsize=20, ha="center", va="center", zorder=1.5,
         fontfamily="cmb10")
axd.text(0.932, 3.23, "causality + pQCD", color="white", fontsize=17, rotation=-74,
         ha="center", va="center", rotation_mode="anchor", zorder=1.5)

p_nng = PathPatch(bandpath(NNG_UP_X, NNG_UP_Y, NNG_LO_X, NNG_LO_Y), fc="#fbd1b6", ec="none", zorder=2)
axd.add_patch(p_nng)
axd.add_patch(PathPatch(bandpath(KN_UP_X, KN_UP_Y, KN_LO_X, KN_LO_Y), fc="#b2e5f7", ec="none", zorder=2.1))
p_ov = PathPatch(bandpath(KN_UP_X, KN_UP_Y, KN_LO_X, KN_LO_Y), fc="#c9c7b7", ec="none", zorder=2.2)
axd.add_patch(p_ov)
p_ov.set_clip_path(p_nng)
axd.add_patch(PathPatch(bandpath(MAIN_UP_X, MAIN_UP_Y, MAIN_LO_X, MAIN_LO_Y), fill=False, hatch="xxxxx",
                        ec="#707070", lw=0, zorder=2.5))

sline(axd, MAIN_LO_X, MAIN_LO_Y, C_MAIN, 2.2, zorder=3, glow=2.2)
sline(axd, MAIN_UP_X, MAIN_UP_Y, "#4b4b42", 2.2, zorder=3)
sline(axd, KN_LO_X, KN_LO_Y, C_KN, 2.4, zorder=3.2, glow=2.2)
sline(axd, KN_BLOB_X, KN_BLOB_Y, C_KN, 4.0, zorder=3.2)
sline(axd, KN_UP_X, KN_UP_Y, "#3aa3c6", 1.8, zorder=3.1)
sline(axd, NNG_LO_X, NNG_LO_Y, "#c8874f", 2.2, zorder=3.3)
sline(axd, NNG_LOOP_X, NNG_LOOP_Y, "#c8874f", 3.0, zorder=3.3)
sline(axd, NNG_UP_X, NNG_UP_Y, C_NNG, 2.6, zorder=3.5, glow=2.2)
sline(axd, NNG_SPIKE_X, NNG_SPIKE_Y, C_NNG, 4.0, zorder=3.6, glow=2.2)
axd.text(-0.125, 4.315, "(d)", fontsize=15, ha="center", va="center", zorder=6)
fig.text(527 / W, 1 - 732 / H, r"$P/(0.01\rho_0c^2(\rho/\rho_0)^{5/2})$", ha="center", va="center", fontsize=16, rotation=90)
fig.text(790 / W, 1 - 985 / H, r"$\log_{10}\rho/\rho_0$", ha="center", va="center", fontsize=16)

fig.text(997 / W, 1 - 17 / H, "16", ha="center", va="center", fontsize=11)

fig.savefig("out.png", dpi=100)
